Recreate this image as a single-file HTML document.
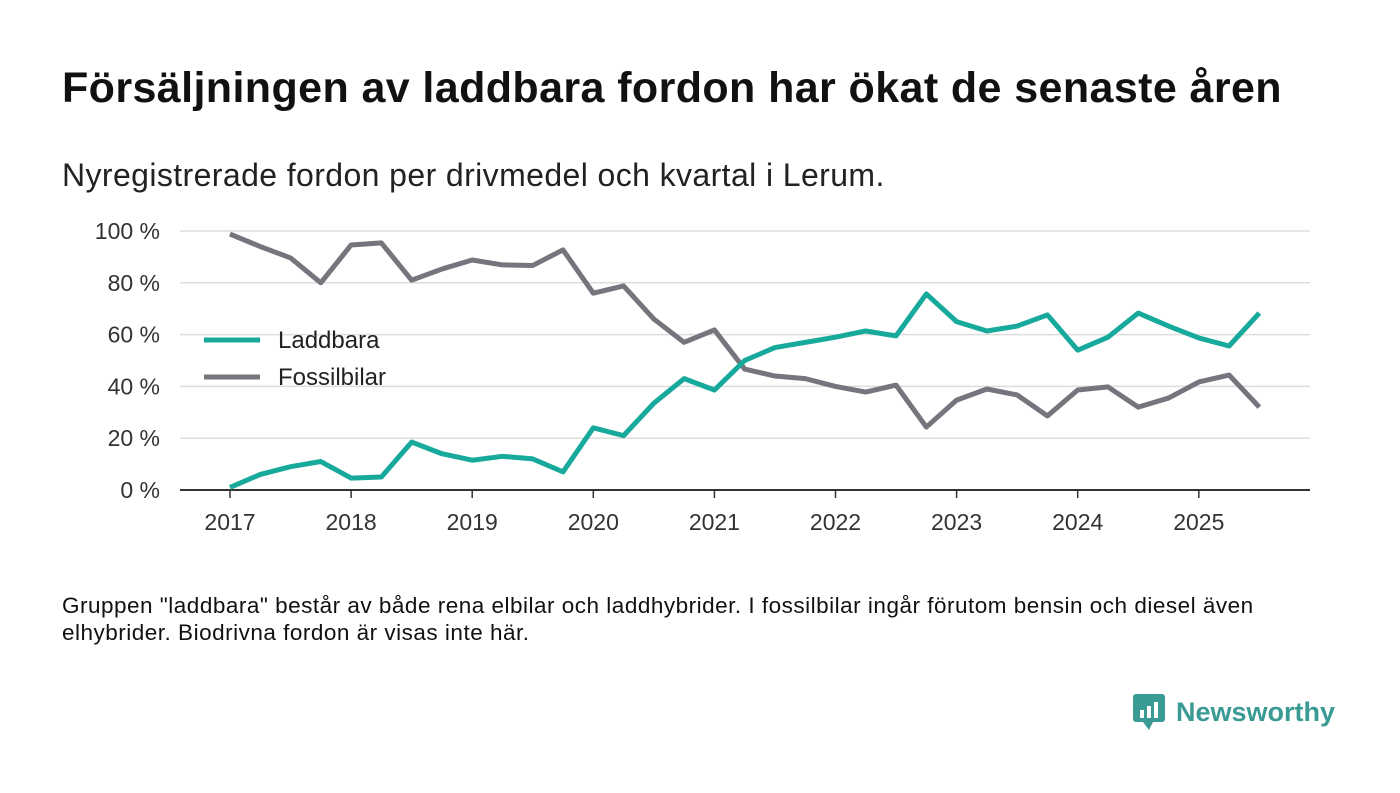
<!DOCTYPE html>
<html><head><meta charset="utf-8"><style>
body{margin:0;width:1400px;height:793px;background:#fff;font-family:"Liberation Sans","DejaVu Sans",sans-serif;overflow:hidden;position:relative;color:#111}
.t{position:absolute;left:62px;top:64px;font-size:43px;font-weight:bold;letter-spacing:0.4px;white-space:nowrap}
.s{position:absolute;left:62px;top:157px;font-size:32px;letter-spacing:0.4px;color:#222;white-space:nowrap}
.n{position:absolute;left:62px;top:592px;font-size:22.5px;letter-spacing:0.5px;line-height:27px;color:#111;white-space:nowrap}
</style></head><body>
<div class="t">Försäljningen av laddbara fordon har ökat de senaste åren</div>
<div class="s">Nyregistrerade fordon per drivmedel och kvartal i Lerum.</div>
<svg id="c" width="1400" height="793" style="position:absolute;left:0;top:0"></svg>
<div class="n">Gruppen "laddbara" består av både rena elbilar och laddhybrider. I fossilbilar ingår förutom bensin och diesel även<br>elhybrider. Biodrivna fordon är visas inte här.</div>
<div style="position:absolute;left:1133px;top:692px;display:flex;align-items:center">
<svg width="34" height="40"><rect x="0" y="2" width="32" height="28" rx="3" fill="#3a9b95"/><path d="M10 30 L16 38 L20 30Z" fill="#3a9b95"/><rect x="7" y="18" width="4" height="8" fill="#fff"/><rect x="14" y="14" width="4" height="12" fill="#fff"/><rect x="21" y="10" width="4" height="16" fill="#fff"/></svg>
<span style="font-size:27px;font-weight:bold;color:#3a9b95;margin-left:9px">Newsworthy</span></div>
<script>
const quarters=[2017,2017.25,2017.5,2017.75,2018,2018.25,2018.5,2018.75,2019,2019.25,2019.5,2019.75,2020,2020.25,2020.5,2020.75,2021,2021.25,2021.5,2021.75,2022,2022.25,2022.5,2022.75,2023,2023.25,2023.5,2023.75,2024,2024.25,2024.5,2024.75,2025,2025.25,2025.5];
const laddbara=[1,6,9,11,4.6,5,18.5,14,11.5,13,12,7,24,21,33.5,43,38.6,50,55,57,59,61.4,59.5,75.7,65,61.4,63.3,67.6,54,59,68.3,63.3,58.7,55.6,68.3];
const fossil=[98.8,94,89.6,80,94.6,95.4,81,85.3,88.8,86.9,86.7,92.7,76,78.8,66,57,61.8,46.7,44,43,40,37.8,40.5,24.3,34.7,39,36.7,28.6,38.6,39.8,32,35.5,41.7,44.4,32];
const yTicks=[0,20,40,60,80,100];
const xTicks=[2017,2018,2019,2020,2021,2022,2023,2024,2025];
const NS="http://www.w3.org/2000/svg",svg=document.getElementById('c');
const X=v=>230+(v-2017)*121.1, Y=v=>490-v*2.59;
function mk(t,a){const e=document.createElementNS(NS,t);for(const k in a)e.setAttribute(k,a[k]);svg.appendChild(e);return e;}
yTicks.forEach(v=>{
 const l=mk('line',{x1:180,x2:1310,y1:Y(v),y2:Y(v),stroke:v?'#ddd':'#333','stroke-width':v?1.5:2});
 
 
 const t=mk('text',{x:160,y:Y(v)+8,'text-anchor':'end','font-size':23,fill:'#333','font-family':'Liberation Sans, sans-serif'});
 t.textContent=v+' %';
 
 
});
xTicks.forEach(v=>{
 const l=mk('line',{x1:X(v),x2:X(v),y1:490,y2:498,stroke:'#333','stroke-width':1.5});
 
 
 const t=mk('text',{x:X(v),y:530,'text-anchor':'middle','font-size':23,fill:'#333','font-family':'Liberation Sans, sans-serif'});
 t.textContent=v;
 
 
});
function line(d,col,name){
 const p=mk('polyline',{points:quarters.map((q,i)=>X(q)+','+Y(d[i])).join(' '),fill:'none',stroke:col,'stroke-width':5,'stroke-linejoin':'round'});
 
 
}
line(fossil,'#76747c','fossil-line');
line(laddbara,'#17a99b','laddbara-line');
[['Laddbara','#17a99b',340],['Fossilbilar','#76747c',377]].forEach(([n,c,y])=>{
 const l=mk('line',{x1:204,x2:260,y1:y,y2:y,stroke:c,'stroke-width':5});
 
 
 const t=mk('text',{x:278,y:y+8,'font-size':24,fill:'#222','font-family':'Liberation Sans, sans-serif'});
 t.textContent=n;
 
 
});
</script>
</body></html>
